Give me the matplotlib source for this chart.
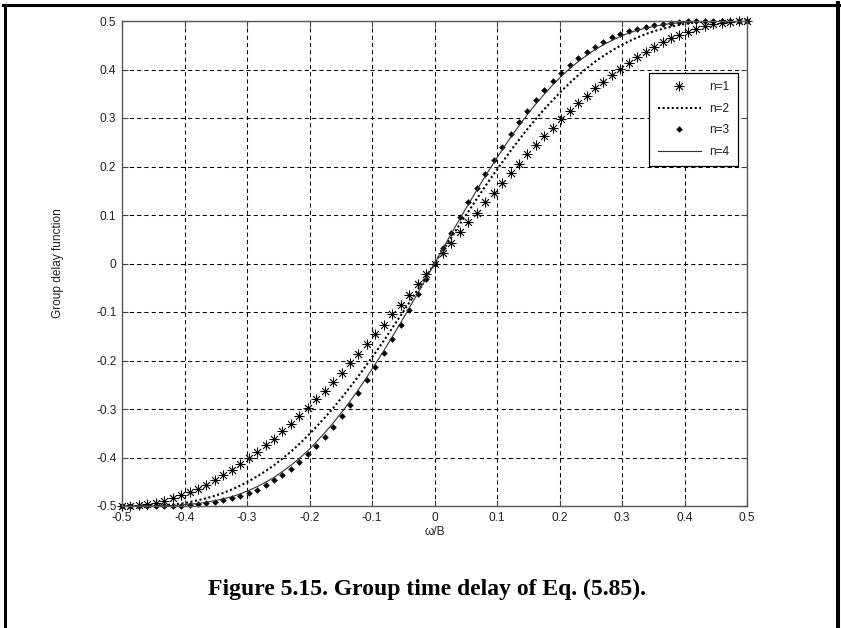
import matplotlib
matplotlib.use("Agg")
import matplotlib.pyplot as plt
from matplotlib.lines import Line2D

plt.rcParams["font.family"] = ["Liberation Sans", "DejaVu Sans"]
plt.rcParams["axes.unicode_minus"] = False

# normalised frequency samples (positive half; the curves are odd)
w_pos = [0.000000, 0.013514, 0.027027, 0.040541, 0.054054, 0.067568, 0.081081,
         0.094595, 0.108108, 0.121622, 0.135135, 0.148649, 0.162162, 0.175676,
         0.189189, 0.202703, 0.216216, 0.229730, 0.243243, 0.256757, 0.270270,
         0.283784, 0.297297, 0.310811, 0.324324, 0.337838, 0.351351, 0.364865,
         0.378378, 0.391892, 0.405405, 0.418919, 0.432432, 0.445946, 0.459459,
         0.472973, 0.486486, 0.500000]

g1_pos = [0.000, 0.021, 0.042, 0.064, 0.085, 0.105, 0.126, 0.146, 0.167, 0.186,
          0.206, 0.225, 0.244, 0.262, 0.280, 0.297, 0.314, 0.330, 0.346, 0.361,
          0.375, 0.389, 0.402, 0.414, 0.426, 0.436, 0.446, 0.456, 0.464, 0.471,
          0.478, 0.484, 0.489, 0.493, 0.496, 0.498, 0.500, 0.500]

g2_pos = [0.000, 0.027, 0.054, 0.081, 0.107, 0.133, 0.159, 0.184, 0.208, 0.232,
          0.255, 0.277, 0.298, 0.318, 0.337, 0.355, 0.372, 0.388, 0.402, 0.416,
          0.428, 0.439, 0.449, 0.458, 0.466, 0.473, 0.479, 0.484, 0.488, 0.492,
          0.495, 0.497, 0.498, 0.499, 0.500, 0.500, 0.500, 0.500]

g3_pos = [0.000, 0.032, 0.063, 0.095, 0.126, 0.156, 0.185, 0.213, 0.241, 0.267,
          0.291, 0.315, 0.337, 0.357, 0.376, 0.393, 0.409, 0.423, 0.436, 0.447,
          0.457, 0.466, 0.473, 0.479, 0.484, 0.488, 0.492, 0.494, 0.496, 0.498,
          0.499, 0.499, 0.500, 0.500, 0.500, 0.500, 0.500, 0.500]

g4_pos = [0.000, 0.031, 0.062, 0.092, 0.122, 0.151, 0.180, 0.207, 0.234, 0.260,
          0.284, 0.307, 0.329, 0.349, 0.368, 0.386, 0.402, 0.416, 0.429, 0.441,
          0.451, 0.460, 0.468, 0.475, 0.481, 0.485, 0.489, 0.492, 0.495, 0.496,
          0.498, 0.499, 0.499, 0.500, 0.500, 0.500, 0.500, 0.500]

labels = ["n=1", "n=2", "n=3", "n=4"]
tick_vals = [-0.5, -0.4, -0.3, -0.2, -0.1, 0, 0.1, 0.2, 0.3, 0.4, 0.5]
tick_text = ["-0.5", "-0.4", "-0.3", "-0.2", "-0.1", "0", "0.1", "0.2", "0.3", "0.4", "0.5"]


def full(pos):
    """Assemble the full antisymmetric series from its positive half."""
    neg = [-v for v in reversed(pos[1:])]
    return neg + list(pos)


w = full(w_pos)
g1 = full(g1_pos)
g2 = full(g2_pos)
g3 = full(g3_pos)
g4 = full(g4_pos)

W, H = 841, 628
fig = plt.figure(figsize=(W / 100, H / 100), dpi=100)
fig.patch.set_facecolor("white")

L, R, T, B = 122, 747, 21, 506
ax = fig.add_axes([L / W, 1 - B / H, (R - L) / W, (B - T) / H])

ax.plot(w, g1, linestyle="none", marker=(8, 2, 0), markersize=7,
        markeredgewidth=0.6, color="black", label=labels[0], clip_on=False)
ax.plot(w, g2, linestyle=(0, (1, 1.2)), linewidth=1.5, color="black",
        label=labels[1])
ax.plot(w, g3, linestyle="none", marker="D", markersize=3.0,
        markeredgewidth=0.3, color="black", label=labels[2], clip_on=False)
ax.plot(w, g4, linestyle="-", linewidth=0.8, color="#333333", label=labels[3])

ax.set_xlim(-0.5, 0.5)
ax.set_ylim(-0.5, 0.5)
ax.set_xticks(tick_vals)
ax.set_xticklabels(tick_text)
ax.set_yticks(tick_vals)
ax.set_yticklabels(tick_text)

ax.grid(True, color="black", linestyle=(0, (4, 3)), linewidth=0.75)
ax.tick_params(direction="in", length=4.3, width=0.8, color="#444444",
               top=True, right=True, labelsize=8.6, labelcolor="#222222",
               pad=4.0)
for s in ax.spines.values():
    s.set_color("#555555")
    s.set_linewidth(1.0)

ax.set_xlabel("\u03c9/B", fontsize=8.6, color="#222222")
ax.xaxis.set_label_coords(0.5, -(526 - B) / (B - T))
ax.set_ylabel("Group delay function", fontsize=8.6, color="#222222")
ax.yaxis.set_label_coords(-(L - 64) / (R - L), 0.5)

leg = ax.legend(loc="upper right", bbox_to_anchor=(738 / W, 1 - 73 / H),
                bbox_transform=fig.transFigure, fontsize=8.6, frameon=True,
                fancybox=False, framealpha=1, edgecolor="black",
                handlelength=3.6, handletextpad=0.75, labelspacing=0.8,
                borderpad=0.7, borderaxespad=0)
leg.get_frame().set_linewidth(0.9)
for t in leg.get_texts():
    t.set_color("#222222")

fig.text(427 / W, 1 - 595 / H, "Figure 5.15. Group time delay of Eq. (5.85).",
         ha="center", va="baseline", fontsize=17, fontweight="bold",
         family=["Liberation Serif", "DejaVu Serif"])

# page frame around the figure (open at the bottom edge)
frame_kw = dict(color="black", transform=None, clip_on=False)
fig.add_artist(Line2D([4.5, 4.5], [H - 4.5, -10], linewidth=2.2, **frame_kw))
fig.add_artist(Line2D([3, 839], [H - 4.5, H - 4.5], linewidth=2.2, **frame_kw))
fig.add_artist(Line2D([838, 838], [H - 3, -10], linewidth=2.9, **frame_kw))

fig.savefig("out.png", dpi=100)
